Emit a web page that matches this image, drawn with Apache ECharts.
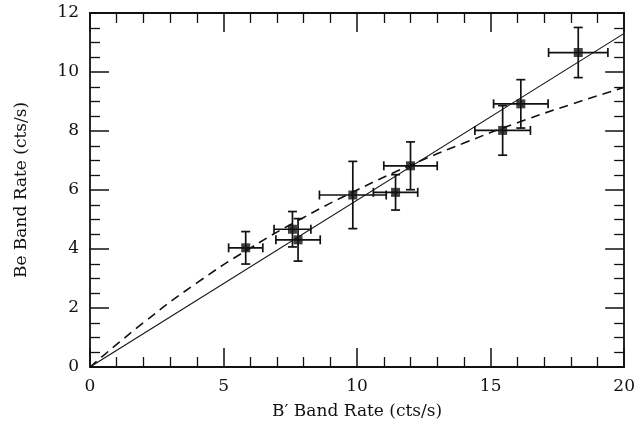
<!DOCTYPE html>
<html>
<head>
<meta charset="utf-8">
<script src="https://cdn.jsdelivr.net/npm/echarts@6/dist/echarts.min.js"></script>
<style>
    html, body { margin: 0; padding: 0; background: #fff; }
    #chart { width: 638px; height: 431px; }
</style>
</head>
<body>
<div id="chart"></div>
<script>
    // measured points (B' band rate vs Be band rate)
    var bRate    = [5.83, 7.58, 7.79, 9.84, 11.44, 12.0, 15.45, 16.13, 18.28];
    var bRateErr = [0.64, 0.69, 0.83, 1.25, 0.83, 1.0, 1.04, 1.02, 1.11];
    var beRate    = [4.04, 4.67, 4.31, 5.83, 5.92, 6.82, 8.02, 8.92, 10.66];
    var beRateErr = [0.55, 0.6, 0.72, 1.14, 0.6, 0.81, 0.84, 0.82, 0.85];

    // straight line through origin
    var lineX = [0, 20];
    var lineY = [0, 11.31];

    // dashed curve
    var curveX = [0, 2, 4, 6, 8, 10, 12, 14, 16, 18, 20];
    var curveY = [0, 1.5, 2.85, 4.03, 5.07, 6.0, 6.84, 7.59, 8.28, 8.9, 9.48];

    var xTicks = [0, 5, 10, 15, 20];
    var yTicks = [0, 2, 4, 6, 8, 10, 12];

    var fontFam = 'DejaVu Serif';

    var errData = bRate.map(function (x, i) {
        return [x, beRate[i], bRateErr[i], beRateErr[i]];
    });
    var pts = bRate.map(function (x, i) { return [x, beRate[i]]; });
    var linePts = lineX.map(function (x, i) { return [x, lineY[i]]; });
    var curvePts = curveX.map(function (x, i) { return [x, curveY[i]]; });

    function renderErr(params, api) {
        var x = api.value(0), y = api.value(1), dx = api.value(2), dy = api.value(3);
        var l = api.coord([x - dx, y]), r = api.coord([x + dx, y]);
        var t = api.coord([x, y + dy]), b = api.coord([x, y - dy]);
        var cap = 4.5;
        var st = { stroke: '#111', lineWidth: 1.7 };
        return {
            type: 'group',
            children: [
                { type: 'line', shape: { x1: l[0], y1: l[1], x2: r[0], y2: r[1] }, style: st },
                { type: 'line', shape: { x1: l[0], y1: l[1] - cap, x2: l[0], y2: l[1] + cap }, style: st },
                { type: 'line', shape: { x1: r[0], y1: r[1] - cap, x2: r[0], y2: r[1] + cap }, style: st },
                { type: 'line', shape: { x1: t[0], y1: t[1], x2: b[0], y2: b[1] }, style: st },
                { type: 'line', shape: { x1: t[0] - cap, y1: t[1], x2: t[0] + cap, y2: t[1] }, style: st },
                { type: 'line', shape: { x1: b[0] - cap, y1: b[1], x2: b[0] + cap, y2: b[1] }, style: st }
            ]
        };
    }

    var axLine = { show: true, onZero: false, lineStyle: { color: '#111', width: 1.8 } };
    var majTick = { show: true, inside: true, length: 19, lineStyle: { color: '#111', width: 1.5 } };
    var minTickX = { show: true, splitNumber: 5, length: 10, lineStyle: { color: '#111', width: 1.3 } };
    var minTickY = { show: true, splitNumber: 4, length: 10, lineStyle: { color: '#111', width: 1.3 } };
    var lbl = { color: '#111', fontFamily: fontFam, fontSize: 17 };

    var chart = echarts.init(document.getElementById('chart'));
    chart.setOption({
        animation: false,
        backgroundColor: '#fff',
        grid: { left: 90, right: 13, top: 13, bottom: 64 },
        xAxis: [
            {
                type: 'value', min: 0, max: 20, interval: 5, position: 'bottom',
                name: 'B\u2032 Band Rate (cts/s)', nameLocation: 'middle', nameGap: 36,
                nameTextStyle: lbl,
                axisLine: axLine, axisTick: majTick, minorTick: minTickX,
                axisLabel: Object.assign({ margin: 11 }, lbl),
                splitLine: { show: false }
            },
            {
                type: 'value', min: 0, max: 20, interval: 5, position: 'top',
                axisLine: axLine, axisTick: majTick, minorTick: minTickX,
                axisLabel: { show: false }, splitLine: { show: false }
            }
        ],
        yAxis: [
            {
                type: 'value', min: 0, max: 12, interval: 2, position: 'left',
                name: 'Be Band Rate (cts/s)', nameLocation: 'middle', nameGap: 60,
                nameTextStyle: lbl,
                axisLine: axLine, axisTick: majTick, minorTick: minTickY,
                axisLabel: Object.assign({ margin: 11 }, lbl),
                splitLine: { show: false }
            },
            {
                type: 'value', min: 0, max: 12, interval: 2, position: 'right',
                axisLine: axLine, axisTick: majTick, minorTick: minTickY,
                axisLabel: { show: false }, splitLine: { show: false }
            }
        ],
        series: [
            {
                type: 'line', data: linePts, showSymbol: false,
                lineStyle: { color: '#111', width: 1.1 }
            },
            {
                type: 'line', data: curvePts, showSymbol: false, smooth: true,
                lineStyle: { color: '#111', width: 1.6, type: [9, 6] }
            },
            {
                type: 'custom', data: errData, renderItem: renderErr,
                encode: { x: 0, y: 1 }, z: 3
            },
            {
                type: 'scatter', data: pts, symbol: 'rect', symbolSize: 9,
                itemStyle: { color: '#111' }, z: 4
            }
        ]
    });
</script>
</body>
</html>
